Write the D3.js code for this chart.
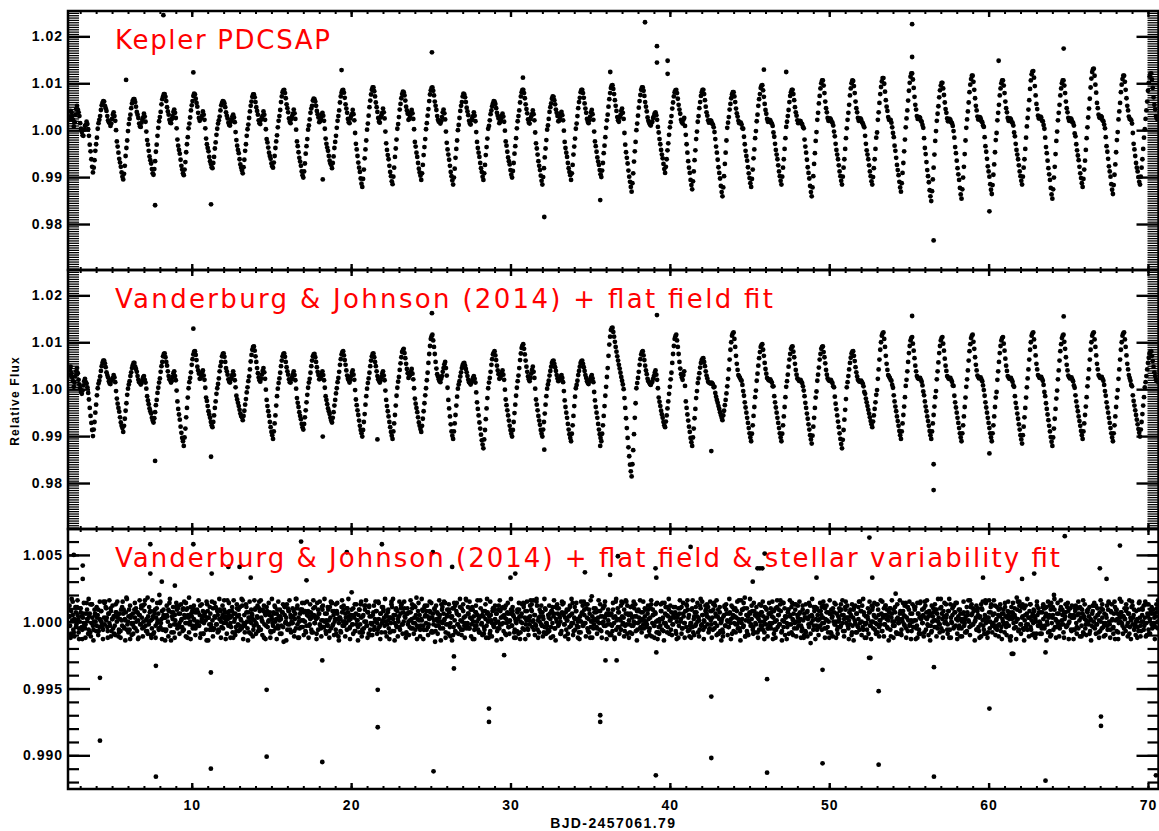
<!DOCTYPE html>
<html>
<head>
<meta charset="utf-8">
<script src="https://cdn.jsdelivr.net/npm/d3@7"></script>
<style>
  body { margin: 0; background: #fff; overflow: hidden; }
</style>
</head>
<body>
<div id="chart"></div>
<script>
// light curves on a regular cadence, flux offsets in units of 1e-4
// "A" arrays start at cadenceStart, "B" arrays are the cadences half a step later
const cadenceStart = 2.3;
const cadenceStep = 0.1;
const flatCadenceStep = 1 / 15;
const flatScatterStep = 0.1;

const panelTitles = [
    "Kepler PDCSAP",
    "Vanderburg & Johnson (2014) + flat field fit",
    "Vanderburg & Johnson (2014) + flat field & stellar variability fit"
];
const timeTicks = [10, 20, 30, 40, 50, 60, 70];
const wideFluxTicks = [0.98, 0.99, 1.00, 1.01, 1.02];
const narrowFluxTicks = [0.990, 0.995, 1.000, 1.005];

const pdcsapFluxA = [
    22, 41, 30, 8, 33, 52, 38, 15, -4, -12, 9, 18, 2, -31, -62,
    -90, -64, -30, 3, 22, 43, 58, 61, 47, 30, 17, 9, 24, 38, 20, -24, -48, -69, -90,
    -105, -76, -38, -2, 24, 47, 63, 66, 50, 33, 14, 7, 22, 35, 18, -21, -44, -64, -83,
    -95, -66, -31, 5, 28, 55, 72, 77, 62, 40, 22, 15, 30, 44, 26, -20, -42, -63, -84,
    -96, -68, -30, 4, 27, 53, 73, 76, 58, 37, 20, 26, 40, 22, -18, -38, -57, -72,
    -81, -57, -26, 3, 21, 42, 58, 61, 49, 31, 16, 10, 23, 33, 17, -21, -42, -62, -80,
    -92, -63, -30, 2, 26, 52, 71, 76, 60, 41, 21, 13, 27, 40, 22, -19, -37, -55, -71,
    -80, -55, -24, 6, 30, 60, 81, 86, 68, 47, 25, 15, 30, 44, 24, -24, -47, -67, -88,
    -101, -71, -34, 1, 23, 46, 63, 66, 52, 34, 17, 25, 37, 20, -18, -37, -55, -71,
    -81, -56, -25, 5, 30, 59, 80, 86, 69, 46, 24, 15, 30, 43, 21, -29, -55, -80, -103,
    -121, -84, -41, 1, 31, 63, 86, 91, 72, 49, 26, 16, 32, 46, 25, -28, -53, -76, -98,
    -115, -80, -39, 3, 28, 56, 77, 81, 63, 42, 22, 30, 43, 24, -25, -48, -70, -90,
    -106, -74, -36, 2, 31, 62, 85, 91, 74, 52, 30, 18, 14, 28, 44, 23, -27, -52, -76, -98,
    -116, -82, -40, 0, 26, 52, 72, 76, 60, 40, 20, 12, 26, 38, 19, -25, -48, -70, -89,
    -106, -74, -36, 3, 21, 42, 57, 61, 47, 31, 15, 24, 35, 18, -24, -46, -66, -85,
    -101, -70, -34, 4, 30, 59, 81, 86, 68, 45, 23, 14, 29, 42, 21, -28, -52, -76, -97,
    -116, -81, -39, 1, 24, 49, 67, 71, 55, 37, 19, 27, 39, 21, -25, -48, -70, -89,
    -106, -74, -35, 3, 30, 60, 81, 86, 69, 46, 24, 15, 29, 43, 22, -24, -46, -67, -85,
    -100, -70, -33, 5, 33, 66, 90, 96, 77, 52, 28, 18, 32, 46, 24, -31, -59, -86, -110,
    -131, -92, -45, 0, 31, 62, 86, 91, 73, 50, 27, 16, 10, 18, 30, 38, 22, -5, -30, -52, -72,
    -91, -62, -28, 6, 30, 59, 81, 86, 67, 44, 22, 14, 26, -10, -48, -80, -106,
    -126, -88, -43, -3, 30, 60, 81, 86, 64, 38, 21, 17, 19, 12, -4, -35, -63, -91, -119,
    -141, -98, -48, 5, 28, 56, 76, 81, 60, 36, 20, 16, 12, 3, -30, -55, -79, -102,
    -121, -84, -41, -2, 33, 66, 90, 96, 71, 43, 24, 19, 21, 14, -5, -29, -52, -75, -98,
    -116, -80, -40, 7, 30, 60, 81, 86, 64, 38, 21, 17, 19, 13, 4, -35, -63, -91, -119,
    -141, -98, -49, -4, 37, 73, 100, 106, 79, 47, 26, 21, 23, 16, -3, -29, -52, -75, -98,
    -116, -80, -40, 4, 37, 74, 100, 105, 79, 47, 26, 21, 23, 15, 6, -29, -52, -75, -98,
    -116, -81, -40, -5, 38, 77, 104, 111, 82, 50, 28, 22, 16, -6, -33, -59, -85, -110,
    -131, -91, -45, 6, 42, 84, 114, 121, 90, 54, 30, 24, 26, 18, 5, -38, -68, -98, -128,
    -151, -105, -52, -2, 35, 70, 95, 101, 75, 45, 25, 20, 22, 15, -2, -36, -65, -94, -123,
    -146, -101, -51, 5, 40, 81, 109, 116, 86, 52, 29, 23, 25, 17, 7, -34, -61, -88, -115,
    -136, -95, -47, -6, 37, 74, 100, 106, 79, 47, 26, 21, 23, 16, -5, -29, -52, -75, -98,
    -116, -80, -40, 8, 44, 88, 119, 126, 94, 56, 31, 25, 27, 19, 3, -36, -65, -94, -123,
    -146, -101, -51, -3, 37, 74, 100, 106, 79, 47, 26, 21, 23, 16, -7, -30, -54, -78, -102,
    -121, -84, -42, 6, 46, 91, 124, 131, 97, 58, 33, 26, 28, 19, 4, -34, -61, -88, -115,
    -136, -95, -47, -4, 40, 81, 109, 116, 86, 52, 29, 23, 14, -29, -55, -80, -100,
    -116, -80, -40, 2, 42, 84, 114, 121, 90, 54, 30, 24
];
const pdcsapFluxB = [
    28, 38, 22, 17, 45, 44, 30, 3, -11, 1, 11, 13, -12, -45, -78,
    -80, -44, -16, 15, 30, 53, 62, 52, 41, 21, 15, 14, 33, 30, 0, -35, -61, -78, -99,
    -93, -55, -22, 13, 33, 57, 66, 60, 39, 26, 8, 16, 27, 29, -3, -31, -56, -71, -92,
    -83, -46, -12, 19, 39, 66, 77, 71, 49, 33, 16, 24, 39, 37, 4, -33, -50, -76, -92,
    -84, -47, -15, 14, 42, 62, 78, 67, 50, 26, 25, 31, 33, 4, -30, -45, -66, -79,
    -70, -39, -10, 14, 29, 53, 62, 57, 38, 25, 11, 18, 29, 27, -4, -33, -49, -73, -86,
    -79, -44, -12, 12, 40, 61, 76, 70, 49, 33, 15, 22, 31, 33, 2, -26, -48, -61, -77,
    -69, -38, -11, 20, 43, 72, 85, 79, 55, 38, 18, 24, 35, 36, 1, -34, -59, -76, -96,
    -88, -50, -19, 10, 37, 52, 67, 61, 41, 27, 19, 33, 31, 3, -29, -44, -65, -74,
    -70, -38, -12, 20, 42, 72, 85, 80, 55, 37, 17, 25, 34, 34, -6, -41, -69, -89, -114,
    -104, -60, -22, 14, 49, 76, 91, 83, 59, 39, 18, 27, 37, 38, -3, -42, -62, -89, -109,
    -99, -57, -20, 13, 44, 68, 82, 74, 50, 35, 24, 38, 36, 2, -35, -57, -82, -97,
    -92, -53, -19, 15, 45, 76, 90, 84, 61, 43, 22, 19, 19, 38, 36, -3, -41, -63, -89, -107,
    -101, -59, -22, 11, 41, 60, 78, 70, 48, 32, 14, 21, 30, 31, -4, -38, -57, -81, -99,
    -92, -53, -18, 9, 34, 51, 62, 56, 37, 25, 18, 31, 29, -1, -33, -58, -73, -95,
    -87, -50, -17, 19, 42, 72, 86, 79, 55, 36, 16, 24, 34, 34, -5, -39, -66, -85, -108,
    -100, -58, -21, 10, 39, 57, 72, 64, 44, 30, 20, 35, 32, -1, -38, -57, -81, -96,
    -92, -52, -18, 14, 47, 69, 86, 79, 57, 37, 18, 21, 38, 34, -3, -34, -58, -74, -94,
    -86, -49, -15, 21, 50, 79, 95, 88, 64, 41, 21, 27, 41, 37, -6, -47, -71, -99, -121,
    -113, -67, -25, 14, 48, 75, 91, 84, 60, 40, 20, 12, 16, 26, 36, 32, 7, -19, -42, -60, -83,
    -78, -43, -10, 17, 46, 72, 85, 79, 54, 35, 17, 22, 9, -30, -66, -91, -117,
    -109, -64, -19, 18, 47, 73, 86, 77, 50, 31, 16, 21, 14, 6, -19, -48, -79, -103, -132,
    -122, -72, -22, 16, 44, 68, 81, 72, 46, 29, 15, 16, 4, -14, -44, -65, -92, -113,
    -104, -60, -17, 19, 52, 77, 95, 85, 56, 35, 18, 22, 16, 9, -14, -42, -62, -88, -108,
    -99, -62, -17, 18, 43, 73, 86, 77, 49, 31, 15, 20, 14, 7, -20, -48, -79, -103, -132,
    -122, -72, -23, 22, 57, 89, 106, 95, 61, 38, 20, 25, 18, 10, -13, -42, -62, -88, -108,
    -99, -62, -17, 22, 54, 89, 106, 94, 61, 38, 20, 25, 17, 10, -12, -43, -62, -88, -109,
    -100, -62, -16, 22, 58, 92, 111, 99, 64, 41, 22, 22, 6, -15, -44, -74, -96, -122,
    -113, -70, -20, 25, 63, 101, 121, 108, 71, 44, 24, 28, 20, 11, -17, -51, -85, -111, -141,
    -130, -80, -23, 20, 51, 85, 101, 89, 59, 37, 19, 24, 17, 9, -16, -49, -81, -106, -137,
    -126, -78, -22, 23, 59, 97, 116, 103, 68, 42, 23, 28, 19, 10, -15, -46, -77, -99, -127,
    -117, -73, -21, 21, 54, 89, 106, 95, 61, 38, 20, 25, 17, 10, -13, -42, -62, -88, -108,
    -99, -62, -16, 26, 64, 106, 125, 112, 74, 45, 25, 29, 20, 11, -16, -49, -81, -106, -137,
    -126, -78, -23, 21, 54, 89, 106, 95, 61, 38, 20, 25, 17, 10, -13, -43, -64, -92, -113,
    -104, -65, -17, 27, 67, 110, 130, 116, 80, 47, 27, 30, 21, 12, -15, -46, -77, -99, -127,
    -117, -73, -21, 23, 58, 97, 116, 103, 68, 42, 24, 21, -6, -41, -70, -88, -110,
    -99, -62, -16, 24, 61, 101, 120, 108, 70, 44, 25, 27
];

const vj14FluxA = [
    30, 48, 25, 5, 28, 45, 20, 2, -10, 8, 22, 12, -8, -40, -72,
    -100, -70, -33, 2, 18, 39, 56, 61, 47, 30, 17, 11, 21, 30, 15, -20, -40, -60, -78,
    -91, -63, -30, 1, 17, 36, 51, 56, 43, 28, 15, 10, 19, 28, 14, -15, -32, -47, -61,
    -71, -49, -23, 3, 23, 49, 70, 76, 58, 38, 21, 14, 26, 38, 19, -26, -54, -80, -104,
    -121, -84, -40, 2, 24, 52, 74, 81, 62, 40, 22, 28, 40, 20, -18, -36, -54, -70,
    -81, -56, -26, 2, 23, 49, 70, 76, 58, 38, 21, 14, 26, 38, 19, -14, -29, -44, -57,
    -66, -46, -21, 4, 27, 59, 84, 91, 70, 45, 25, 16, 31, 45, 22, -23, -47, -70, -91,
    -106, -73, -35, 1, 23, 49, 70, 76, 58, 38, 21, 14, 26, 38, 19, -19, -38, -57, -74,
    -86, -60, -28, 3, 22, 49, 70, 75, 58, 37, 21, 26, 38, 19, -15, -32, -47, -61,
    -71, -49, -23, 2, 24, 52, 74, 81, 62, 40, 22, 14, 28, 40, 20, -22, -45, -67, -87,
    -101, -70, -33, 1, 23, 49, 70, 76, 58, 38, 21, 14, 26, 38, 19, -23, -47, -70, -91,
    -106, -73, -35, 3, 26, 55, 79, 86, 66, 43, 24, 30, 43, 21, -20, -40, -60, -78,
    -91, -63, -30, 2, 35, 75, 107, 116, 90, 58, 32, 21, 15, 28, 45, 58, 29, -23, -58, -90,
    -106, -73, -35, 1, 17, 36, 51, 56, 43, 28, 15, 10, 19, 28, 14, -28, -56, -84, -109,
    -126, -87, -41, 2, 24, 52, 74, 81, 62, 40, 22, 28, 40, 20, -22, -45, -67, -87,
    -101, -70, -33, 3, 29, 62, 88, 96, 74, 48, 27, 17, 33, 48, 24, -22, -45, -67, -87,
    -101, -70, -33, 1, 18, 39, 56, 61, 47, 30, 17, 21, 30, 15, -24, -50, -74, -96,
    -111, -77, -36, 2, 18, 39, 56, 61, 47, 30, 17, 11, 21, 30, 15, -24, -50, -74, -96,
    -111, -77, -36, 5, 45, 95, 126, 131, 112, 90, 70, 52, 35, 18, 0, -40, -83, -124, -161,
    -186, -130, -61, 2, 24, 52, 74, 81, 62, 40, 22, 14, 9, 16, 28, 40, 20, -18, -36, -54, -70,
    -81, -56, -26, 5, 35, 75, 107, 116, 90, 58, 32, 20, 38, -26, -54, -80, -104,
    -121, -84, -42, -4, 23, 46, 62, 66, 49, 29, 16, 13, 14, 10, 5, -16, -29, -42, -55,
    -66, -46, -23, 6, 42, 84, 114, 121, 90, 54, 30, 24, 18, -4, -28, -50, -72, -94,
    -111, -77, -38, -3, 33, 66, 90, 96, 71, 43, 24, 19, 21, 14, 6, -28, -50, -72, -94,
    -111, -77, -38, 5, 31, 63, 86, 91, 68, 41, 23, 18, 20, 13, -3, -29, -52, -75, -98,
    -116, -80, -40, -5, 31, 63, 86, 91, 68, 41, 23, 18, 20, 13, 4, -31, -56, -81, -106,
    -126, -87, -44, 4, 28, 56, 76, 81, 60, 36, 20, 16, 18, 12, -6, -20, -36, -52, -68,
    -81, -56, -28, -2, 42, 84, 114, 121, 90, 54, 30, 24, 18, 3, -26, -47, -68, -89,
    -106, -73, -37, 7, 38, 77, 104, 111, 82, 50, 28, 22, 24, 16, -5, -26, -47, -68, -89,
    -106, -73, -37, -4, 38, 77, 104, 111, 82, 50, 28, 22, 24, 16, 7, -28, -50, -72, -94,
    -111, -77, -38, 5, 40, 81, 109, 116, 86, 52, 29, 23, 25, 17, -2, -28, -50, -72, -94,
    -111, -77, -38, -6, 38, 77, 104, 111, 82, 50, 28, 22, 24, 16, 5, -29, -52, -75, -98,
    -116, -80, -40, 4, 42, 84, 114, 121, 90, 54, 30, 24, 26, 18, -6, -30, -54, -78, -102,
    -121, -84, -42, -3, 40, 81, 109, 116, 86, 52, 29, 23, 25, 17, 3, -26, -47, -68, -89,
    -106, -73, -37, 6, 42, 84, 114, 121, 90, 54, 30, 24, 26, 18, -4, -28, -50, -72, -94,
    -111, -77, -38, -2, 42, 84, 114, 121, 90, 54, 30, 18, 6, -25, -45, -65, -85,
    -101, -70, -35, 4, 28, 56, 76, 81, 60, 36, 20, 16
];
const vj14FluxB = [
    41, 34, 17, 14, 38, 34, 10, -6, -3, 17, 15, 4, -22, -57, -87,
    -86, -50, -13, 12, 27, 49, 61, 55, 36, 25, 12, 18, 24, 25, -4, -31, -48, -71, -83,
    -78, -46, -12, 10, 28, 45, 56, 48, 37, 20, 14, 13, 25, 20, 1, -24, -41, -52, -67,
    -62, -34, -8, 14, 37, 58, 75, 68, 50, 28, 19, 18, 34, 28, -3, -42, -65, -93, -111,
    -103, -60, -18, 15, 36, 64, 80, 73, 48, 33, 23, 36, 29, 3, -25, -47, -61, -77,
    -70, -40, -10, 11, 38, 58, 75, 69, 45, 31, 16, 21, 31, 30, 4, -22, -36, -52, -60,
    -57, -33, -7, 17, 42, 73, 90, 82, 58, 34, 19, 22, 39, 36, -1, -36, -57, -81, -98,
    -90, -56, -15, 13, 35, 61, 75, 69, 47, 31, 15, 21, 32, 30, 1, -29, -49, -64, -81,
    -74, -45, -12, 14, 35, 61, 74, 68, 47, 30, 22, 33, 30, 3, -23, -41, -53, -67,
    -61, -35, -9, 15, 37, 64, 79, 72, 52, 29, 19, 20, 35, 31, -2, -34, -55, -78, -94,
    -87, -53, -15, 13, 35, 61, 75, 68, 49, 28, 18, 19, 33, 29, -3, -36, -58, -81, -99,
    -90, -55, -14, 16, 41, 68, 83, 77, 54, 34, 28, 38, 33, 2, -31, -49, -71, -85,
    -78, -47, -13, 19, 56, 92, 113, 104, 75, 44, 27, 17, 22, 37, 53, 45, 3, -41, -75, -99,
    -90, -55, -16, 10, 27, 45, 55, 50, 36, 20, 13, 15, 24, 22, -7, -42, -71, -97, -118,
    -107, -64, -19, 14, 37, 64, 78, 72, 50, 32, 24, 35, 31, -1, -34, -56, -78, -95,
    -87, -51, -14, 17, 45, 76, 93, 86, 61, 37, 21, 24, 41, 37, 1, -33, -57, -76, -95,
    -86, -52, -15, 10, 29, 48, 60, 54, 39, 23, 19, 27, 24, -4, -38, -61, -86, -104,
    -95, -57, -16, 9, 30, 48, 60, 54, 39, 24, 13, 17, 26, 23, -6, -38, -61, -86, -104,
    -95, -57, -14, 26, 71, 112, 130, 122, 101, 80, 61, 44, 26, 10, -19, -62, -104, -143, -175,
    -160, -96, -30, 13, 37, 64, 79, 72, 50, 32, 17, 11, 13, 22, 35, 31, 2, -27, -46, -61, -77,
    -69, -41, -10, 21, 56, 92, 113, 104, 75, 44, 25, 30, 7, -40, -67, -91, -113,
    -103, -62, -19, 13, 34, 56, 65, 58, 38, 23, 14, 12, 13, 4, -8, -23, -36, -49, -61,
    -56, -34, -9, 22, 63, 100, 119, 107, 71, 41, 27, 20, 9, -14, -39, -61, -83, -103,
    -95, -57, -17, 18, 50, 79, 94, 84, 56, 33, 22, 19, 17, 6, -15, -39, -61, -83, -103,
    -95, -58, -17, 17, 48, 75, 90, 80, 54, 31, 21, 18, 16, 6, -15, -40, -63, -86, -107,
    -99, -61, -18, 18, 46, 75, 90, 79, 55, 31, 20, 19, 16, 6, -16, -43, -69, -94, -117,
    -108, -65, -21, 15, 42, 67, 80, 71, 47, 27, 18, 17, 15, 6, -10, -28, -44, -60, -75,
    -69, -42, -12, 22, 63, 100, 119, 107, 71, 41, 27, 20, 9, -13, -37, -58, -78, -98,
    -90, -55, -17, 20, 58, 92, 109, 97, 66, 38, 24, 23, 20, 8, -13, -37, -58, -78, -98,
    -90, -55, -17, 21, 57, 92, 109, 97, 65, 39, 25, 23, 20, 8, -14, -39, -61, -83, -103,
    -94, -58, -18, 21, 61, 96, 114, 101, 68, 40, 26, 24, 21, 8, -14, -39, -61, -83, -103,
    -94, -58, -18, 20, 58, 92, 109, 97, 65, 39, 25, 23, 20, 8, -15, -40, -63, -86, -107,
    -98, -60, -18, 23, 63, 100, 119, 106, 72, 42, 27, 25, 22, 9, -15, -42, -66, -90, -112,
    -103, -63, -20, 21, 61, 96, 114, 101, 68, 40, 26, 24, 21, 8, -13, -37, -58, -78, -98,
    -90, -55, -17, 23, 63, 100, 119, 106, 72, 42, 27, 25, 22, 9, -14, -39, -61, -83, -103,
    -94, -58, -18, 22, 63, 100, 119, 106, 72, 42, 24, 9, -13, -35, -55, -75, -93,
    -86, -53, -17, 15, 42, 67, 80, 71, 48, 28, 18, 17
];

// one row per day, 15 points per row
const detrendedFluxA = [
    4, -3, 8, 1, -6, 2, 11, -2, 5, -8, 0, 7, -4, 3, -1,
    -5, 6, 2, -9, 4, 13, -1, 3, -6, 9, 0, -3, 5, -7, 2,
    8, -2, -6, 3, 15, 1, -4, 6, -1, 10, -7, 2, 4, -3, 7,
    0, 5, -8, 2, 9, -3, 6, -5, 1, 18, -2, 4, -6, 3, -1,
    6, -4, 3, 10, -7, 1, 5, -2, 12, -5, 0, 8, -3, 2, -9,
    -2, 7, 1, -5, 4, -8, 9, 3, -1, 6, 20, -4, 2, -6, 5,
    3, -7, 5, 0, 8, -3, -14, 4, 7, -2, 1, 11, -5, 6, -1,
    -4, 2, 9, -6, 3, 14, -1, 5, -8, 0, 6, -3, 10, 1, -5,
    7, 0, -3, 5, -9, 2, 8, -1, 4, -6, 13, 3, -2, 6, -4,
    1, -6, 4, 11, -2, 5, -7, 9, 0, 3, -5, 16, 2, -1, 7,
    -3, 8, -1, 4, -8, 6, 2, -4, 10, -2, 5, -6, 1, 12, -3,
    5, -1, 7, -5, 3, 0, -9, 6, 2, -3, 9, -1, 4, -7, 15,
    -6, 3, 0, 8, -2, 5, 11, -4, 1, 7, -8, 2, -3, 6, 0,
    2, 9, -5, 1, 4, -3, 7, -15, 5, 0, 13, -2, 8, -6, 3,
    -1, 4, -7, 6, 17, -2, 3, -5, 9, 1, -4, 7, 0, -8, 5,
    8, -3, 2, -6, 5, 10, -1, 4, -9, 3, 6, -2, -5, 11, 1,
    -4, 6, 1, -2, 9, -7, 3, 14, -3, 5, 0, -6, 8, 2, -1,
    3, -8, 7, 0, -3, 6, -1, 10, 4, -5, 2, 22, -2, 5, -7,
    6, 1, -4, 9, -2, 3, -6, 5, 0, 12, -3, 7, -9, 4, -1,
    -2, 5, -6, 2, 8, -1, 15, -4, 6, -8, 1, 9, -3, 0, 4,
    7, -5, 3, -1, 11, 2, -7, 5, -3, 8, 0, -4, 6, 13, -2,
    0, 4, -9, 6, -2, 7, 1, -5, 10, -1, 3, -6, 18, 2, -4,
    5, -3, 1, 8, -6, 4, -1, 12, -4, 2, 7, -8, 3, -2, 9,
    -7, 2, 6, -3, 5, 0, 9, -5, 1, 14, -2, 4, -9, 7, -1,
    3, 10, -4, 1, -8, 6, -2, 5, 11, -6, 0, 8, -3, 4, -5,
    -1, 6, -5, 9, 2, -13, 4, -3, 7, 0, -6, 3, 16, -2, 5,
    4, -6, 2, -3, 7, 1, -9, 5, -1, 10, -4, 2, 6, -7, 0,
    -5, 8, -2, 4, -7, 3, 12, -1, 6, -4, 1, 9, -3, 5, -8,
    2, -1, 7, -9, 4, 0, 6, -5, 13, 3, -2, 8, -6, 1, 4,
    9, -4, 1, 5, -2, 17, -6, 3, 0, 7, -3, 4, -8, 10, -1,
    -3, 5, -7, 2, 8, -1, 4, -5, 11, 0, 6, -2, 3, -9, 7,
    6, -2, 3, -6, 1, 9, -4, 5, -1, 14, -7, 2, 8, -3, 0,
    -8, 4, 0, 7, -3, 5, -1, 10, -5, 2, 6, -4, 19, 1, -2,
    1, 7, -5, 3, -1, 8, -7, 4, 0, 12, -3, 6, -2, 5, -9,
    5, -3, 9, -1, 4, -6, 2, 7, -4, 1, 15, -2, 3, -7, 6,
    -2, 6, 1, -8, 5, 3, -3, 10, -1, 4, -6, 8, 0, -4, 2,
    7, -5, 4, 0, -2, 9, -7, 3, 13, -1, 5, -3, 6, -8, 1,
    -4, 2, 8, -6, 3, -1, 6, -3, 11, 4, -9, 1, 7, -2, 5,
    3, -7, 0, 5, -3, 10, 2, -5, 6, -1, 8, -4, 16, 3, -6,
    -1, 9, -4, 2, 7, -2, 4, -8, 1, 12, -3, 5, -6, 0, 8,
    6, -2, 3, -5, 1, 8, -6, 14, -1, 4, -3, 9, 2, -7, 0,
    -6, 4, 11, -3, 6, 0, -4, 7, 2, -9, 5, -1, 10, 3, -2,
    2, -5, 6, -1, 9, -3, 18, 1, -7, 4, 0, 6, -2, 8, -4,
    8, -1, 4, -8, 2, 5, -3, 7, -6, 0, 11, -2, 3, -5, 6,
    -3, 7, -1, 3, -6, 10, 1, -4, 5, -2, 8, -7, 14, 0, 4,
    4, -4, 9, -2, 5, -8, 2, 6, -1, 13, -5, 3, 0, 7, -3,
    -5, 1, 6, -7, 3, 8, -2, 4, -16, 5, 1, -3, 9, 2, -6,
    1, 8, -3, 5, -1, 12, -5, 2, 7, -4, 0, 6, -8, 3, 10,
    7, -2, 0, -6, 4, 2, -4, 9, -1, 5, -7, 15, 3, -3, 1,
    -2, 5, -8, 3, 11, -1, 6, -3, 2, -6, 8, 0, -4, 7, -1,
    4, -6, 2, 7, -3, 0, 9, -5, 4, -1, 13, -8, 5, 1, -2,
    -7, 3, 10, -2, 5, -4, 1, 7, -6, 3, 0, 9, -3, 21, 2,
    3, -1, 6, -9, 2, 8, -2, 4, -5, 11, 1, -3, 6, -7, 0,
    -4, 9, 1, -3, 6, -6, 14, 2, -1, 5, -8, 3, 7, -2, 4,
    6, -3, -7, 4, 1, 9, -4, 6, 0, -2, 10, -5, 2, 8, -1,
    0, 5, -2, 8, -6, 3, -1, 12, -4, 7, 2, -9, 4, -3, 6,
    -5, 2, 7, -1, 4, -7, 5, 0, 16, -3, 6, -2, 9, 1, -6,
    8, -4, 3, -2, 10, 1, -6, 5, -1, 3, -8, 7, 0, 13, -3,
    -1, 6, -5, 2, -3, 9, 4, -7, 6, 0, -2, 11, -4, 3, 5,
    2, -14, 4, 7, -1, 5, -4, 18, 2, -6, 8, -2, 3, -5, 10,
    5, -2, -6, 3, 8, -4, 1, 6, -9, 4, 0, 12, -3, 7, -1,
    -3, 7, 2, -5, 4, 11, -2, 3, -7, 9, -1, 5, 20, -4, 1,
    6, 0, -4, 9, -2, 5, -8, 2, 7, -3, 14, -1, 4, -6, 3,
    -6, 3, 8, -1, 5, -5, 1, 10, -3, 6, -9, 2, -2, 8, 0,
    4, -7, 1, 6, -4, 12, 3, -2, 5, -8, 7, 0, -5, 9, -1,
    -2, 5, -3, 9, 0, -6, 7, 2, -4, 15, 1, -7, 6, -1, 3,
    7, -1, 4, -5, 2, 8, -3, 6, -9, 3, 11, -2, 5, -4, 0,
    1, -4, 9, 3, -7, 5, 0, -3, 13, -1, 6, -6, 2, 8, -2,
    -3, 6, -1, 4, 10, -5, 2, 7, -4, 1, -8, 5, 17, -2, 3
];
const detrendedFluxB = [
    4, -12, 17, 5, -8, 1, -4, 11, 2, -5, 10, 4, -13, 6, -3,
    -2, 14, 2, -6, 6, -11, 13, -3, 0, 5, -7, 3, 9, -4, 1,
    0, -4, 15, -2, 11, 3, -12, 6, -3, 8, 2, -5, 4, -10, 7,
    3, -11, 6, -7, 1, 15, -4, 2, 7, -6, 0, 9, -13, 5, -2,
    -1, 9, -5, 0, 7, -12, 5, -2, 3, 12, -4, 16, 1, -7, 4,
    0, 8, -12, 2, -9, 6, -3, 10, 1, -5, 14, -1, 8, 3, -6,
    3, -6, 4, -11, 14, -3, 7, 2, -8, 5, -2, 9, -4, 12, 6,
    1, -4, 10, 5, -1, 9, -12, 3, -2, 11, 4, -5, 2, 7, -3,
    -1, 7, -3, 12, 0, 4, -9, 6, 1, -14, 8, 3, -6, -2, 15,
    10, -5, 3, -2, 8, -6, 2, 8, -4, 5, -1, 7, 4, -9, 2,
    5, 3, -4, 11, -12, 0, 6, -7, 4, 9, -3, 2, -5, 16, -1,
    -3, 13, 0, 7, -8, 3, -1, 5, -6, 1, 10, -2, 3, -4, 8,
    -6, 1, 9, -12, 6, -3, 6, 0, 5, -7, 4, -1, 7, 12, -5,
    6, -3, 4, -9, 2, 7, -4, 12, -1, 3, -6, 8, -2, 5, 0,
    -1, 8, 2, -5, 10, -12, 0, 6, -4, 9, 1, 14, -7, -3, 6,
    4, -2, 7, 3, -8, 5, -1, 2, 14, -6, 6, -3, 1, 9, -4,
    0, -7, 6, -3, 1, 11, -5, 14, -2, 8, 2, -9, 6, -11, 3,
    2, 11, -3, 9, 0, 3, -6, 7, 1, -4, 5, -2, 10, 3, -7,
    -2, 1, 5, -8, 13, -11, 4, -5, 9, 0, -3, 7, 12, -6, 4,
    -1, 7, -4, 0, 8, -6, 2, -3, 6, -1, 11, 3, -8, 5, -2,
    1, -13, 3, 15, -7, 5, -1, 9, -4, 2, 4, -6, 10, -2, 7,
    10, 3, -8, 6, 0, -4, 7, 2, -5, 12, -1, 5, -3, 8, 1,
    -6, 2, 9, -3, 11, 5, -6, 4, -2, 8, 3, -7, 6, 1, -15,
    -3, 7, 0, 3, -5, 13, -1, 6, 2, -8, 5, -2, 9, -4, 4,
    4, -10, 14, -7, 8, -2, 5, -4, 1, 10, -6, 3, -1, 17, -3,
    6, -5, 3, -2, 11, 0, -6, 7, -3, 5, 2, -8, 4, -1, 8,
    -4, 8, -12, 6, 0, 4, -7, 1, 8, -3, 9, -1, 6, -5, 12,
    -2, 3, 10, -1, 5, -9, 2, 7, -4, 0, 6, -3, 11, 4, -6,
    0, -7, 2, 9, -13, 4, -1, 14, -6, 8, 1, -5, 3, -2, 16,
    8, 0, -6, 5, -3, 12, 1, -8, 4, -2, 7, 2, -4, 9, -1,
    -6, 3, 6, -4, 8, -11, 6, -5, 2, 10, -3, 5, 0, -7, 13,
    5, -2, 7, 1, -9, 4, 11, -3, 6, -1, 3, -6, 8, 2, -4,
    1, -8, 6, -3, 15, -1, 13, 3, -7, 9, -12, 0, 4, -5, 7,
    2, -4, 0, 8, -6, 4, -1, 10, -3, 3, 5, -8, 1, 6, -2,
    6, -7, 3, -12, 15, 1, -4, 7, 2, -6, 4, -1, 9, -3, 15,
    -9, 5, -2, 6, -3, 12, 0, 4, -7, 8, -1, 3, -5, 7, 1,
    -2, 1, 9, -4, 6, 2, -5, 10, -11, 5, -3, 7, 0, 14, -8,
    0, -3, 8, 2, -7, 14, -1, 5, -4, 9, 1, -6, 3, -2, 6,
    7, -9, 3, -12, 6, 0, 11, -5, 4, -1, 8, 12, -7, 5, -3,
    -1, 10, -8, 4, -3, 7, 0, 3, -6, 17, -2, 5, 1, -4, 9,
    4, 11, -6, 8, -2, 3, 13, -5, 6, -10, 4, -9, 7, -1, 2,
    -8, 5, -3, 9, 1, -4, 6, -1, 12, 3, -7, 4, -2, 8, -5,
    0, -7, 16, 2, -4, 10, -11, 5, -9, 1, 7, -3, 2, -6, 14,
    5, -2, 6, 3, -6, 0, 7, -3, 4, -8, 2, 9, -5, 6, -1,
    -5, 4, -13, 8, 0, -6, 11, 5, -2, 16, -8, 1, -4, 10, 3,
    -1, 7, -9, 4, -2, 14, 1, -5, 9, 0, 5, -3, 6, 2, -7,
    9, -12, 3, -8, 7, 2, -4, 12, -1, 4, -6, 8, 11, -3, 5,
    -4, 2, 8, -6, 3, -1, 10, -5, 1, 7, -12, 6, -9, 4, 0,
    -2, 13, 6, -4, 0, 8, -3, 5, -7, 2, 11, -1, 3, -5, 7,
    4, -10, -3, 9, 1, -8, 6, -4, 15, -1, 8, 12, -6, 5, -2,
    -1, 4, -9, 7, -3, 12, 0, 5, -6, 3, -2, 9, -4, 1, 6,
    -7, 5, -2, 12, 2, -5, 4, 10, -11, 6, -3, 0, 7, -8, 13,
    -1, 2, 8, -6, 0, 5, -3, 14, 3, -7, 9, -2, 1, 6, -4,
    1, 11, -5, -12, 6, 3, -9, 4, -1, 10, 15, -6, 2, -3, 8,
    5, -8, 0, 7, -4, 1, 9, -5, 3, -2, 17, 6, -7, 4, -1,
    3, -6, 8, -12, 13, 0, 5, -5, 7, -3, 14, 1, -5, 9, 2,
    0, 6, -3, 2, -8, 7, 1, -4, 11, 5, -2, 8, 0, 3, -6,
    5, -7, 4, -11, 9, -3, 2, 16, -9, 0, 3, -5, 7, -1, 5,
    -3, 12, 1, -6, 5, -2, 10, -4, 2, 6, -8, 4, -1, 8, -3,
    7, -11, 2, 6, -5, 3, 0, 9, -7, 15, -2, 11, 4, -6, 1,
    -4, 6, -2, 3, 13, -6, 4, -1, 8, 2, -9, 5, -3, 0, 7,
    -5, 11, 10, -3, 6, 0, -8, 5, -11, 14, 3, -6, 9, 2, -4,
    -1, 6, -5, 11, 1, -2, 7, 4, -4, -3, 8, 0, 5, -7, 3,
    5, -6, 12, -4, 10, 6, -11, 3, 9, -8, 4, -5, 1, 7, -2,
    -9, 2, -3, 8, 0, -5, 12, -2, 5, 1, -7, 10, 3, -4, 6,
    -1, 3, -6, 14, -2, 8, 1, -5, 6, -13, 9, 2, -8, 5, 0,
    7, -3, 4, 2, -7, 10, -1, 6, -4, 1, 15, 3, -6, -2, 8,
    2, -7, 15, -3, 0, 9, -6, 3, -11, 13, 4, -9, 2, 6, -5,
    -1, 3, -4, 7, 0, -8, 5, -2, 11, 2, -6, 1, 8, -3, 4
];
// outer scatter of the flattened curve, 10 points per day
const detrendedScatter = [
    12, -9, 15, -11, 7, 16, -13, 10, -6, 14,
    -12, 9, 17, -8, 13, -14, 6, 11, -10, 15,
    8, -13, 14, 10, -7, 16, -11, 12, -9, 13,
    15, -6, -12, 11, 9, -14, 17, -8, 12, -10,
    -9, 14, 7, -13, 16, 10, -11, 13, -7, 18,
    11, -10, 16, 8, -12, 14, -6, 15, -13, 9,
    -14, 12, 9, 17, -8, 11, -12, 14, 10, -9,
    13, -7, 15, -11, 10, 18, -13, 8, 12, -10,
    9, 16, -12, 13, -9, 7, 15, -14, 11, -6,
    -11, 14, 10, -8, 17, -12, 12, 9, -13, 16,
    14, -12, 8, 16, -10, 13, -7, 11, 17, -13,
    -8, 11, -14, 15, 9, -11, 16, -9, 12, 10,
    16, -10, 12, -13, 8, 14, -12, 17, -7, 11,
    -13, 15, 9, -9, 13, 11, -14, 10, 16, -8,
    10, -11, 17, 12, -12, 9, 14, -10, 8, 15,
    -12, 13, -8, 16, 11, -13, 9, 15, -11, 12,
    17, -9, 11, -12, 15, 8, -10, 13, 14, -14,
    -7, 16, 12, -11, 10, 17, -13, 9, -9, 13,
    13, -14, 9, 15, -8, 12, 16, -12, 11, -10,
    -10, 12, 15, -9, 14, -13, 11, 8, 17, -11,
    9, -8, 13, 17, -14, 10, -11, 15, 12, -9,
    15, -12, 10, -10, 16, 13, -9, 11, -13, 14,
    -11, 17, -13, 12, 8, -10, 15, 14, -8, 10,
    12, -9, 16, -14, 11, 15, -12, 9, 13, -11,
    -14, 10, 12, 14, -9, 17, -10, 13, -12, 16,
    11, 15, -11, 9, -13, 12, 16, -8, 10, -10,
    -9, 13, 17, -12, 15, -11, 10, 12, -14, 9,
    16, -13, 11, 10, -10, 14, -9, 17, 8, -12,
    -12, 9, 14, -8, 13, 11, -13, 15, -10, 12,
    13, 16, -10, 15, -12, 9, 12, -11, 17, -9,
    -8, 12, -12, 11, 16, -14, 13, 10, -9, 15,
    14, -11, 9, -13, 12, 17, -10, 11, 14, -12,
    -13, 15, 12, 9, -11, 13, -8, 16, -12, 10,
    10, -9, 16, 13, -12, 11, 15, -13, 9, -10,
    -10, 14, -13, 17, 10, -9, 12, 14, -11, 16,
    12, -12, 11, -9, 15, 13, -14, 9, 16, -8,
    15, 10, -11, 12, -10, 16, 9, -12, 13, -13,
    -9, 13, 14, -14, 11, -8, 17, 12, -10, 11,
    11, -13, 10, 16, -9, 14, -12, 13, 9, -11,
    -12, 16, -10, 11, 14, -11, 10, 15, -13, 12,
    13, -8, 15, -12, 9, 12, 16, -9, 11, -14,
    -11, 12, 13, -10, 17, -13, 11, 9, -8, 15,
    16, -14, 9, 14, -11, 10, -10, 17, 12, -9,
    -8, 11, -12, 13, 12, 15, -13, 10, -11, 14,
    10, 15, -9, -12, 16, 9, 13, -14, 14, -10,
    -13, 9, 16, 11, -10, 13, -11, 12, 15, -12,
    12, -10, 13, -11, 14, -9, 17, 11, -13, 10,
    -10, 14, 11, 15, -12, 12, -8, 16, 9, -11,
    14, -12, -9, 10, 13, 16, -11, 9, 12, -13,
    9, 13, -14, 12, -8, 11, 15, -10, 17, -12,
    -12, 10, 15, -13, 11, 14, -9, 13, -11, 16,
    15, -11, 12, 9, -14, 10, 16, -12, 11, -9,
    -9, 16, -10, 14, 12, -12, 11, 15, -13, 13,
    11, -13, 14, -9, 15, 9, -11, 12, 16, -10,
    -14, 12, 10, 13, -11, 17, -8, 11, -12, 14,
    13, -9, 17, -12, 10, 12, 14, -13, 9, -11,
    -11, 15, -8, 11, 16, -10, 13, 10, -14, 12,
    10, -12, 13, 15, -9, 14, -12, 16, 11, -8,
    16, -10, 11, -11, 13, -13, 9, 14, -10, 15,
    -12, 11, 14, 10, -13, 15, 12, -9, 13, -14,
    12, 17, -11, 13, -10, 9, -12, 15, 10, -9,
    -9, 13, 10, -14, 15, 12, -10, 11, 17, -12,
    14, -11, 16, 9, -12, 13, 11, -13, 10, 12,
    -13, 10, -9, 15, 11, -11, 16, 13, -10, 9,
    11, -14, 12, 14, -9, 10, -12, 16, 13, -11,
    -10, 12, 15, -12, 13, -9, 11, 9, -13, 17,
    15, -9, 10, 13, -11, 16, -13, 12, 9, -10,
    -12, 14, -11, 10, 12, 15, -10, 13, -9, 11,
    9, -13, 13, 16, -10, 11, 14, -12, 15, -11
];

// isolated points [time, offset in 1e-4]
const pdcsapOutliers = [
    [5.88, 107], [7.70, -160], [8.22, 245], [10.1, 123], [11.21, -158], [18.22, -105],
    [19.4, 128], [25.07, 166], [30.78, 112], [32.12, -185], [35.63, -149], [36.26, 124],
    [38.44, 230], [39.19, 179], [39.19, 144], [39.86, 148], [39.86, 120], [45.9, 129],
    [47.3, 124], [55.2, 226], [55.2, 156], [56.55, -235], [60.05, -173], [60.63, 148], [64.71, 174]
];
const vj14Outliers = [
    [7.70, -153], [10.1, 129], [11.21, -144], [18.22, -101], [21.65, -107], [25.07, 162],
    [32.12, -129], [35.63, -121], [39.19, 158], [42.6, -132], [55.2, 156], [56.55, -215],
    [56.55, -160], [60.05, -137], [64.71, 155]
];
const detrendedOutliers = [
    [4.24, -42], [4.24, -89], [7.75, -33], [7.75, -116], [11.2, -38], [11.2, -110],
    [14.7, -51], [14.7, -101], [18.19, -29], [18.19, -105], [21.67, -51], [21.67, -79],
    [25.17, -112], [26.45, -35], [26.45, -26], [28.65, -65], [28.65, -75], [29.6, -25],
    [35.63, -70], [35.63, -75], [35.96, -29], [36.66, -29], [39.12, -115], [39.15, -23],
    [42.6, -56], [42.6, -102], [46.1, -43], [46.1, -113], [49.58, -36], [49.58, -106],
    [52.5, -27], [52.58, -27], [53.1, -52], [53.1, -107], [56.57, -34], [56.57, -116],
    [60.05, -65], [61.45, -24], [61.5, -24], [61.55, -24], [63.57, -23], [63.57, -119],
    [67.05, -71], [67.05, -78], [70.5, -115],
    [2.6, 50], [3.16, 42], [3.16, 32], [7.4, 58], [7.4, 36], [8.12, 30], [8.94, 27],
    [10.1, 58], [11.25, 36], [12.3, 41], [13.0, 41], [13.7, 33], [16.86, 60], [17.2, 31],
    [19.73, 52], [21.93, 58], [25.13, 52], [26.34, 41], [30.0, 33], [30.3, 36], [34.67, 37],
    [36.25, 35], [36.74, 49], [39.1, 40], [39.15, 33], [41.3, 56], [45.2, 30], [45.5, 40],
    [45.65, 40], [45.8, 40], [45.95, 51], [49.2, 33], [52.52, 63], [52.7, 33], [59.65, 33],
    [62.0, 70], [62.1, 32], [62.86, 36], [64.78, 64], [66.98, 40], [67.4, 32], [68.24, 57]
];

const width = 1159;
const height = 831;
const plotLeft = 68;
const plotRight = 1158.5;
const timeDomain = [2.235, 70.66];
const dotRadius = 2.4;

function cadencePoints(values, start, step) {
    return values.map((v, i) => ({ t: start + i * step, f: 1 + v * 1e-4 }));
}
function extraPoints(pairs) {
    return pairs.map(([t, v]) => ({ t, f: 1 + v * 1e-4 }));
}
function lightCurve(a, b, step, extra) {
    return cadencePoints(a, cadenceStart, step)
        .concat(cadencePoints(b, cadenceStart + step / 2, step))
        .concat(extraPoints(extra));
}

const panels = [
    {
        title: panelTitles[0], titleWidth: 215, top: 11, bottom: 270,
        domain: [0.9702, 1.0254], ticks: wideFluxTicks, minorStep: 0.0005, minorWidth: 1.3, fmt: ".2f",
        points: lightCurve(pdcsapFluxA, pdcsapFluxB, cadenceStep, pdcsapOutliers)
    },
    {
        title: panelTitles[1], titleWidth: 658, top: 270, bottom: 529,
        domain: [0.9702, 1.0254], ticks: wideFluxTicks, minorStep: 0.0005, minorWidth: 1.3, fmt: ".2f",
        points: lightCurve(vj14FluxA, vj14FluxB, cadenceStep, vj14Outliers)
    },
    {
        title: panelTitles[2], titleWidth: 945, top: 529, bottom: 789,
        domain: [0.98748, 1.00694], ticks: narrowFluxTicks, minorStep: 0.001, minorWidth: 2.2, fmt: ".3f",
        points: lightCurve(detrendedFluxA, detrendedFluxB, flatCadenceStep, detrendedOutliers)
            .concat(cadencePoints(detrendedScatter, cadenceStart + 0.03, flatScatterStep))
    }
];

const svg = d3.select("#chart")
    .append("svg")
    .attr("width", width)
    .attr("height", height)
    .style("font-family", "'Liberation Sans', Arial, sans-serif");

const x = d3.scaleLinear().domain(timeDomain).range([plotLeft, plotRight]);
const timeMinor = d3.range(3, 71);

function styleAxis(g, strokeWidth) {
    g.select(".domain").remove();
    g.selectAll("line").attr("stroke", "#000").attr("stroke-width", strokeWidth);
    g.selectAll("text")
        .attr("font-size", 14)
        .attr("font-weight", "bold")
        .attr("letter-spacing", "1px")
        .attr("fill", "#000")
        .attr("font-family", "'Liberation Sans', Arial, sans-serif");
}

panels.forEach((p, i) => {
    const y = d3.scaleLinear().domain(p.domain).range([p.bottom, p.top]);
    const g = svg.append("g");

    g.append("clipPath")
        .attr("id", "clip" + i)
        .append("rect")
        .attr("x", plotLeft)
        .attr("y", p.top)
        .attr("width", plotRight - plotLeft)
        .attr("height", p.bottom - p.top);

    g.append("g")
        .attr("clip-path", `url(#clip${i})`)
        .selectAll("circle")
        .data(p.points.filter(d => d.t >= timeDomain[0] && d.t <= timeDomain[1]))
        .join("circle")
        .attr("cx", d => x(d.t))
        .attr("cy", d => y(d.f))
        .attr("r", dotRadius)
        .attr("fill", "#000");

    g.append("text")
        .attr("x", 115)
        .attr("y", p.top + 38)
        .attr("textLength", p.titleWidth)
        .attr("lengthAdjust", "spacing")
        .attr("fill", "#ff0000")
        .attr("font-family", "'DejaVu Sans', 'Noto Sans', sans-serif")
        .attr("font-size", 26)
        .text(p.title);

    const minors = d3.range(Math.ceil(p.domain[0] / p.minorStep), Math.floor(p.domain[1] / p.minorStep) + 1)
        .map(k => k * p.minorStep);

    // flux axes on both sides, ticks pointing inward
    g.append("g")
        .attr("transform", `translate(${plotLeft},0)`)
        .call(d3.axisLeft(y).tickValues(minors).tickSize(-11).tickFormat(""))
        .call(a => styleAxis(a, p.minorWidth));
    g.append("g")
        .attr("transform", `translate(${plotLeft},0)`)
        .call(d3.axisLeft(y).tickValues(p.ticks).tickSize(-22).tickPadding(5).tickFormat(d3.format(p.fmt)))
        .call(a => styleAxis(a, 2.4));
    g.append("g")
        .attr("transform", `translate(${plotRight},0)`)
        .call(d3.axisRight(y).tickValues(minors).tickSize(-11).tickFormat(""))
        .call(a => styleAxis(a, p.minorWidth));
    g.append("g")
        .attr("transform", `translate(${plotRight},0)`)
        .call(d3.axisRight(y).tickValues(p.ticks).tickSize(-22).tickFormat(""))
        .call(a => styleAxis(a, 2.4));

    // time axes on top and bottom of each panel
    g.append("g")
        .attr("transform", `translate(0,${p.top})`)
        .call(d3.axisTop(x).tickValues(timeMinor).tickSize(-3).tickFormat(""))
        .call(a => styleAxis(a, 2));
    g.append("g")
        .attr("transform", `translate(0,${p.top})`)
        .call(d3.axisTop(x).tickValues(timeTicks).tickSize(-6).tickFormat(""))
        .call(a => styleAxis(a, 2.4));
    g.append("g")
        .attr("transform", `translate(0,${p.bottom})`)
        .call(d3.axisBottom(x).tickValues(timeMinor).tickSize(-3).tickFormat(""))
        .call(a => styleAxis(a, 2));
    g.append("g")
        .attr("transform", `translate(0,${p.bottom})`)
        .call(d3.axisBottom(x).tickValues(timeTicks).tickSize(-6).tickPadding(11)
            .tickFormat(i === panels.length - 1 ? d3.format("d") : ""))
        .call(a => styleAxis(a, 2.4));

    g.append("rect")
        .attr("x", plotLeft)
        .attr("y", p.top)
        .attr("width", plotRight - plotLeft)
        .attr("height", p.bottom - p.top)
        .attr("fill", "none")
        .attr("stroke", "#000")
        .attr("stroke-width", 2.5);
});

svg.append("text")
    .attr("x", (plotLeft + plotRight) / 2)
    .attr("y", 828)
    .attr("text-anchor", "middle")
    .attr("font-size", 14)
    .attr("font-weight", "bold")
    .attr("letter-spacing", "1.4px")
    .text("BJD-2457061.79");

svg.append("text")
    .attr("transform", "translate(19,401) rotate(-90)")
    .attr("text-anchor", "middle")
    .attr("font-size", 12)
    .attr("font-weight", "bold")
    .attr("letter-spacing", "1.2px")
    .text("Relative Flux");
</script>
</body>
</html>
